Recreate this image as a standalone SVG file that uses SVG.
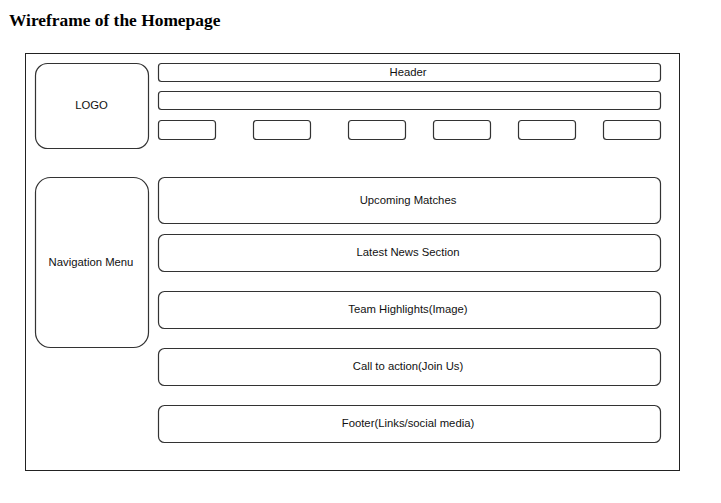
<svg xmlns="http://www.w3.org/2000/svg" width="721" height="503" viewBox="0 0 721 503">
<style>
.box{fill:#fff;stroke:#333;stroke-width:1.2}
.t{font-family:"Liberation Sans",Arial,sans-serif;font-size:11.3px;fill:#111;text-anchor:middle;dominant-baseline:central}
.title{font-family:"Liberation Serif","Times New Roman",serif;font-size:17.4px;font-weight:bold;fill:#000}
</style>
<rect width="721" height="503" fill="#fff"/>
<text class="title" x="9" y="26">Wireframe of the Homepage</text>
<g id="frame"><rect x="25.5" y="53.5" width="654" height="417" fill="#fff" stroke="#222" stroke-width="1"/></g>
<g id="logo"><rect class="box" x="35.5" y="63.5" width="113" height="85" rx="12"/><text class="t" x="91.5" y="105">LOGO</text></g>
<g id="header"><rect class="box" x="158.5" y="63.5" width="502" height="18" rx="3"/><text class="t" x="408" y="72">Header</text></g>
<g id="bar2"><rect class="box" x="158.5" y="91.5" width="502" height="18" rx="3"/></g>
<g id="btn1"><rect class="box" x="158.5" y="120.5" width="57" height="19" rx="3"/></g>
<g id="btn2"><rect class="box" x="253.5" y="120.5" width="57" height="19" rx="3"/></g>
<g id="btn3"><rect class="box" x="348.5" y="120.5" width="57" height="19" rx="3"/></g>
<g id="btn4"><rect class="box" x="433.5" y="120.5" width="57" height="19" rx="3"/></g>
<g id="btn5"><rect class="box" x="518.5" y="120.5" width="57" height="19" rx="3"/></g>
<g id="btn6"><rect class="box" x="603.5" y="120.5" width="57" height="19" rx="3"/></g>
<g id="nav"><rect class="box" x="35.5" y="177.5" width="113" height="170" rx="15"/><text class="t" x="91" y="262">Navigation Menu</text></g>
<g id="matches"><rect class="box" x="158.5" y="177.5" width="502" height="46" rx="6"/><text class="t" x="408" y="200">Upcoming Matches</text></g>
<g id="news"><rect class="box" x="158.5" y="234.5" width="502" height="37" rx="6"/><text class="t" x="408" y="252">Latest News Section</text></g>
<g id="highlights"><rect class="box" x="158.5" y="291.5" width="502" height="37" rx="6"/><text class="t" x="408" y="309">Team Highlights(Image)</text></g>
<g id="cta"><rect class="box" x="158.5" y="348.5" width="502" height="37" rx="6"/><text class="t" x="408" y="366">Call to action(Join Us)</text></g>
<g id="footer"><rect class="box" x="158.5" y="405.5" width="502" height="37" rx="6"/><text class="t" x="408" y="423">Footer(Links/social media)</text></g>
<g id="connectors"></g>
</svg>
